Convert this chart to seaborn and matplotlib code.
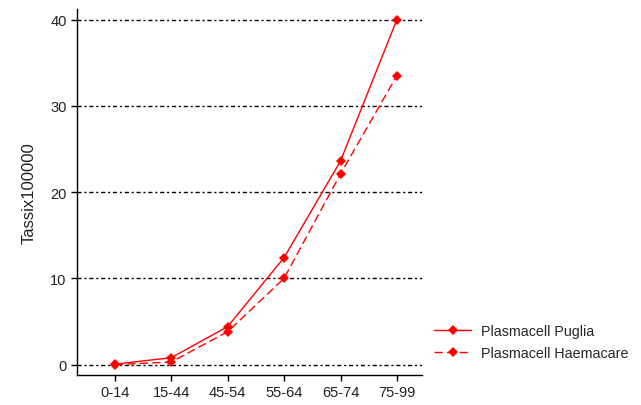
import matplotlib
matplotlib.use("Agg")
import matplotlib.pyplot as plt
import pandas as pd
import seaborn as sns

# fasce d'età e tassi x 100000
eta = ["0-14", "15-44", "45-54", "55-64", "65-74", "75-99"]
puglia = [0.05, 0.8, 4.4, 12.4, 23.6, 40.0]
haemacare = [0.0, 0.3, 3.8, 10.0, 22.1, 33.5]
serie = ["Plasmacell Puglia", "Plasmacell Haemacare"]

df = pd.DataFrame({
    "eta": eta * 2,
    "tasso": puglia + haemacare,
    "serie": [serie[0]] * len(eta) + [serie[1]] * len(eta),
})

sns.set_style("white")
plt.rcParams["font.family"] = ["Liberation Sans", "DejaVu Sans"]

fig = plt.figure(figsize=(6.41, 4.06), dpi=100)
ax = fig.add_axes([0.12, 0.074, 0.538, 0.901])

sns.lineplot(data=df, x="eta", y="tasso", hue="serie", style="serie",
             palette=["#ff0000", "#ff0000"], markers=["D", "D"],
             dashes=["", (6, 3)], markersize=5.5, markeredgewidth=0,
             linewidth=1, ax=ax, sort=False)

ax.set_xlim(-0.67, 5.44)
ax.set_ylim(-1.2, 41.2)
ax.set_yticks([0, 10, 20, 30, 40])
ax.yaxis.grid(True, color="black", linestyle=(0, (3, 2, 1.5, 2)), linewidth=1)
ax.set_axisbelow(True)

for s in ["top", "right"]:
    ax.spines[s].set_visible(False)
for s in ["left", "bottom"]:
    ax.spines[s].set_color("black")
    ax.spines[s].set_linewidth(1)

ax.tick_params(axis="both", direction="out", length=4, width=1, color="black",
               labelsize=10.5, labelcolor="#222222", bottom=True, left=True)
ax.set_xlabel("")
ax.set_ylabel("Tassix100000", fontsize=12, color="#222222", labelpad=10)

handles, labels = ax.get_legend_handles_labels()
ax.legend(handles, labels, loc="center left", bbox_to_anchor=(0.657, 0.155),
          bbox_transform=fig.transFigure, frameon=False, fontsize=10.3,
          handlelength=2.6, handletextpad=0.7, labelspacing=0.55)

plt.savefig("out.png", dpi=100)
